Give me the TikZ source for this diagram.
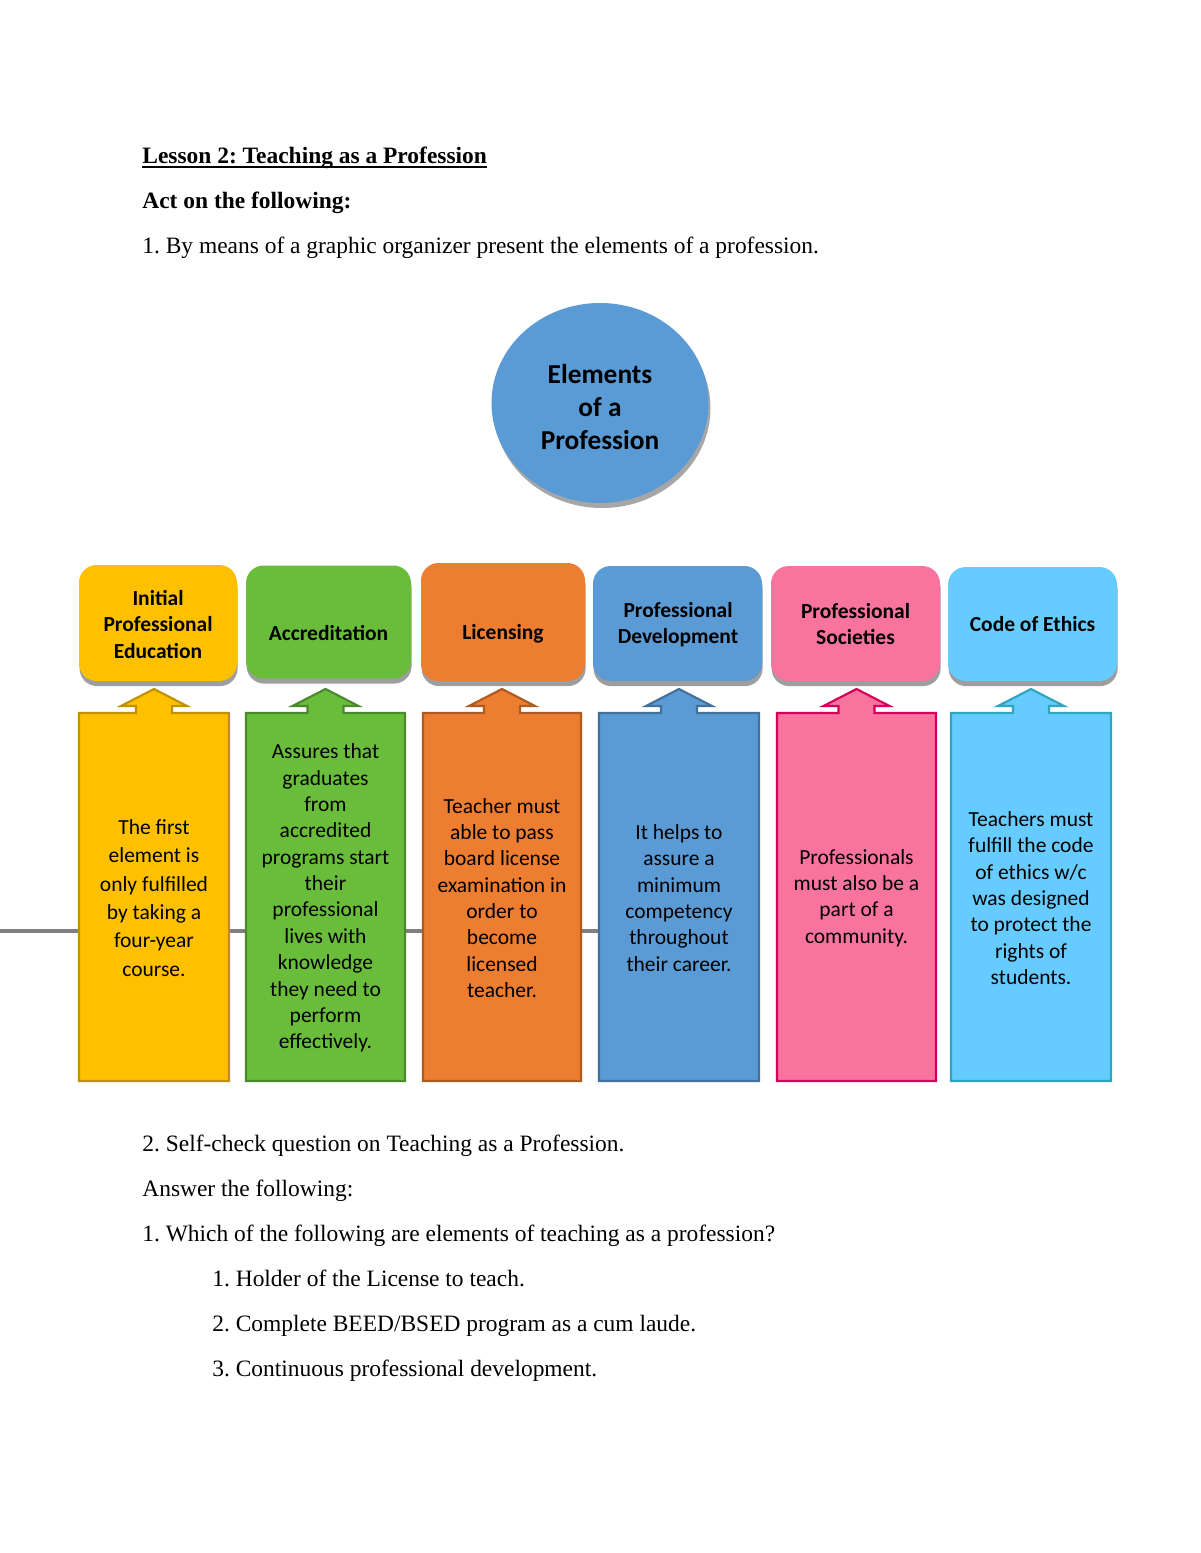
\documentclass[tikz,border=0pt]{standalone}
\usepackage{fontspec}
\setmainfont{Liberation Serif}
\newfontfamily\calib{Carlito}
\usetikzlibrary{shadows,shapes.geometric}
\frenchspacing
\definecolor{cYel}{HTML}{FFC000}\definecolor{bYel}{HTML}{C09100}
\definecolor{cGrn}{HTML}{6ABD3B}\definecolor{bGrn}{HTML}{4A8A2C}
\definecolor{cOra}{HTML}{ED7D31}\definecolor{bOra}{HTML}{AE5A21}
\definecolor{cBlu}{HTML}{5B9BD5}\definecolor{bBlu}{HTML}{41719C}
\definecolor{cPnk}{HTML}{F8749F}\definecolor{bPnk}{HTML}{D4005A}
\definecolor{cLbl}{HTML}{66CCFF}\definecolor{bLbl}{HTML}{2EA6C0}
\definecolor{lineGray}{HTML}{7F7F7F}
\tikzset{
  doc/.style={anchor=base west,inner sep=0pt,font=\fontsize{12}{14}\selectfont},
  hdr/.style={rounded corners=9bp,inner sep=0pt,
     drop shadow={shadow xshift=0.3bp,shadow yshift=-2.6bp,fill=black!38,opacity=1}},
  hdrtext/.style={inner sep=0pt,align=center,font=\calib\bfseries\fontsize{11}{13.5}\selectfont},
  body/.style={inner sep=0pt,align=center,font=\calib\fontsize{11}{13.5}\selectfont},
  uparrow/.style={line width=1.1bp}
}
\newcommand\uparbox[7][13.5]{%
  \pgfmathsetmacro\cx{(#2+#3)/2}%
  \filldraw[uparrow,fill=#4,draw=#5] (#2,1081) -- (#2,713) -- (\cx-18,713) -- (\cx-18,706)
     -- (\cx-33,706) -- (\cx,689) -- (\cx+33,706) -- (\cx+18,706) -- (\cx+18,713)
     -- (#3,713) -- (#3,1081) -- cycle;
  \node[body,font=\calib\fontsize{11}{#1}\selectfont] (#6) at (\cx,898) {#7};}
\begin{document}
\begin{tikzpicture}[x=0.51bp,y=-0.51bp]
\useasboundingbox (0,0) rectangle (1200,1553);
\fill[white] (0,0) rectangle (1200,1553);
% header text
\node[doc] (t1) at (142,164) {\textbf{Lesson 2: Teaching as a Profession}};
\draw[line width=0.9bp] ([yshift=-1.4bp]t1.base west) -- ([yshift=-1.4bp]t1.base east);
\node[doc] (t2) at (142,209) {\textbf{Act on the following:}};
\node[doc] (t3) at (142,254) {1. By means of a graphic organizer present the elements of a profession.};
% circle
\fill[black!35] (602,408) ellipse [x radius=108.5, y radius=100];
\fill[cBlu] (600,403) ellipse [x radius=108.5, y radius=100];
\node[inner sep=0pt,align=center,font=\calib\bfseries\fontsize{14}{17}\selectfont] (center) at (600,407)
  {Elements\\of a\\Profession};
% horizontal line
\draw[lineGray,line width=1.6bp] (0,931) -- (620,931);
% top boxes
\node[hdr,fill=cYel,minimum width=158*0.51bp,minimum height=116*0.51bp] (h1) at (158,623) {};
\node[hdr,fill=cGrn,minimum width=165*0.51bp,minimum height=113*0.51bp] (h2) at (328.5,622) {};
\node[hdr,fill=cOra,minimum width=164*0.51bp,minimum height=118*0.51bp] (h3) at (503,622) {};
\node[hdr,fill=cBlu,minimum width=169*0.51bp,minimum height=115*0.51bp] (h4) at (677.5,623.5) {};
\node[hdr,fill=cPnk,minimum width=169*0.51bp,minimum height=115*0.51bp] (h5) at (855.5,623.5) {};
\node[hdr,fill=cLbl,minimum width=169*0.51bp,minimum height=114*0.51bp] (h6) at (1032.5,624) {};
\node[hdrtext] (h1t) at (158,624.5) {Initial\\Professional\\Education};
\node[hdrtext] (h2t) at (328.5,633) {Accreditation};
\node[hdrtext] (h3t) at (503,634) {Licensing};
\node[hdrtext] (h4t) at (678,624.5) {Professional\\Development};
\node[hdrtext] (h5t) at (855.5,624) {Professional\\Societies};
\node[hdrtext] (h6t) at (1032.5,624) {Code of Ethics};
% bottom arrow boxes
\uparbox[14.5]{79}{229}{cYel}{bYel}{b1}{The first\\element is\\only fulfilled\\by taking a\\four-year\\course.}
\uparbox{246}{405}{cGrn}{bGrn}{b2}{Assures that\\graduates\\from\\accredited\\programs start\\their\\professional\\lives with\\knowledge\\they need to\\perform\\effectively.}
\uparbox{423}{581}{cOra}{bOra}{b3}{Teacher must\\able to pass\\board license\\examination in\\order to\\become\\licensed\\teacher.}
\uparbox{599}{759}{cBlu}{bBlu}{b4}{It helps to\\assure a\\minimum\\competency\\throughout\\their career.}
\uparbox{777}{936}{cPnk}{bPnk}{b5}{Professionals\\must also be a\\part of a\\community.}
\uparbox{951}{1111}{cLbl}{bLbl}{b6}{Teachers must\\fulfill the code\\of ethics w/c\\was designed\\to protect the\\rights of\\students.}
% lower text
\node[doc] (q1) at (142,1151) {2. Self-check question on Teaching as a Profession.};
\node[doc] (q2) at (142,1196) {Answer the following:};
\node[doc] (q3) at (142,1241) {1. Which of the following are elements of teaching as a profession?};
\node[doc] (q4) at (212,1286) {1. Holder of the License to teach.};
\node[doc] (q5) at (212,1331) {2. Complete BEED/BSED program as a cum laude.};
\node[doc] (q6) at (212,1376) {3. Continuous professional development.};
\end{tikzpicture}
\end{document}
